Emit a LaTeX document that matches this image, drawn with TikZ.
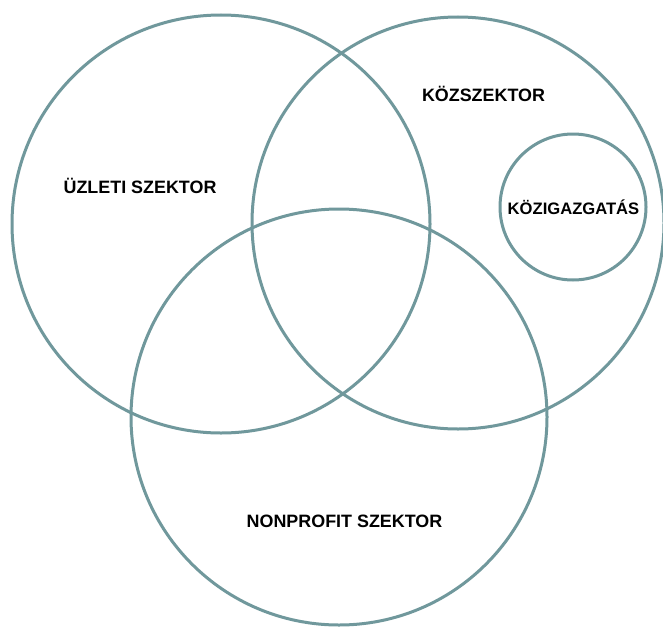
\documentclass[tikz,border=0pt]{standalone}
\usepackage{fontspec}
\setmainfont{Liberation Sans}
\definecolor{ring}{RGB}{112,152,156}
\begin{document}
\begin{tikzpicture}[x=1pt,y=-1pt,
  ring/.style={draw=ring,line width=3pt},
  lab/.style={font=\bfseries\fontsize{17.9}{19}\selectfont,text=black,inner sep=0pt,anchor=base}]
\useasboundingbox (0,0) rectangle (663,626);
\fill[white] (0,0) rectangle (663,626);
\node[ring,circle,minimum size=418pt,inner sep=0pt] (biz) at (221,224) {};
\node[ring,circle,minimum size=412pt,inner sep=0pt] (pub) at (458,223) {};
\node[ring,circle,minimum size=416pt,inner sep=0pt] (np) at (339,417) {};
\node[ring,circle,minimum size=146pt,inner sep=0pt] (adm) at (573,207) {};
\node[lab] (tbiz) at (140,193) {ÜZLETI SZEKTOR};
\node[lab] (tpub) at (483.5,101) {KÖZSZEKTOR};
\node[lab,font=\bfseries\fontsize{16.6}{18}\selectfont] (tadm) at (573.5,214) {KÖZIGAZGATÁS};
\node[lab] (tnp) at (344.5,527) {NONPROFIT SZEKTOR};
\end{tikzpicture}
\end{document}
